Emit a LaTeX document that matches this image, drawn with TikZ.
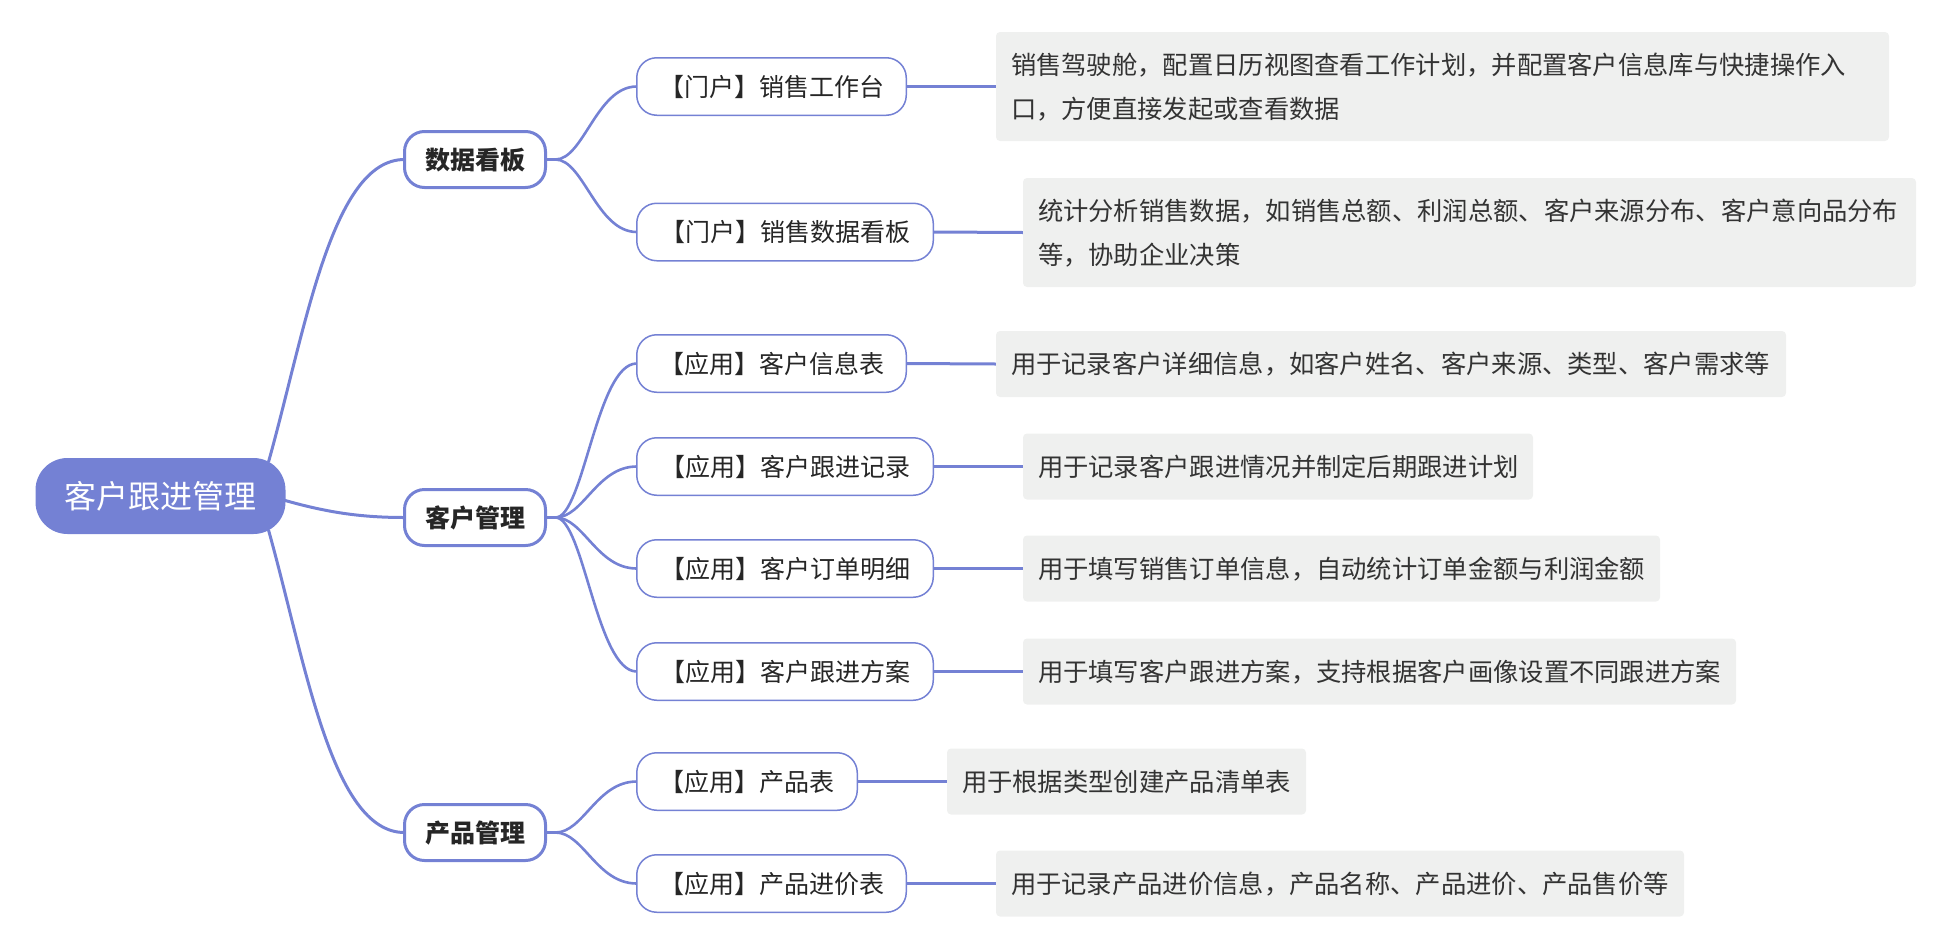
\documentclass[tikz,border=0pt]{standalone}
\usepackage{fontspec}
\setmainfont{Noto Sans CJK SC}
\usetikzlibrary{calc}
\pgfdeclarelayer{bg}
\pgfsetlayers{bg,main}
\definecolor{mainc}{RGB}{116,129,212}
\definecolor{descfill}{RGB}{239,240,239}
\definecolor{textc}{RGB}{38,38,38}
\definecolor{desctext}{RGB}{51,51,51}
\newcommand\mystrut{\rule[-0.12em]{0pt}{1em}}
\begin{document}
\begin{tikzpicture}[x=1pt,y=-1pt,
  rootnode/.style={fill=mainc, draw=none, rounded corners=32pt, minimum width=250pt, minimum height=76pt, inner sep=0pt, outer sep=0pt, text=white, font=\fontsize{32}{38}\selectfont},
  topicnode/.style={draw=mainc, line width=3pt, fill=white, rounded corners=20pt, minimum width=141pt, minimum height=56pt, inner sep=0pt, outer sep=0pt, font=\fontsize{25}{30}\selectfont\bfseries, text=textc},
  subnode/.style={draw=mainc, line width=1.5pt, fill=white, rounded corners=20pt, minimum height=57.5pt, inner sep=0pt, outer sep=0pt, anchor=west, font=\fontsize{25}{30}\selectfont, text=textc},
  descnode/.style={fill=descfill, draw=none, rounded corners=4pt, inner sep=0pt, outer sep=0pt, anchor=west, font=\fontsize{25.3}{44}\selectfont, text=desctext},
  link/.style={draw=mainc, line width=3pt},
  sublink/.style={draw=mainc, line width=2.6pt}
]
\path[use as bounding box] (0,0) rectangle (1956,948);

% root
\node[rootnode] (root) at (160.5,496) {\mystrut 客户跟进管理};

% level 1
\node[topicnode] (k1) at (475,159.5) {\mystrut 数据看板};
\node[topicnode] (k2) at (475,517.5) {\mystrut 客户管理};
\node[topicnode] (k3) at (475,832.5) {\mystrut 产品管理};

% level 2
\node[subnode, minimum width=269.5pt] (s1) at (636.75,86.5) {\mystrut 【门户】销售工作台};
\node[subnode, minimum width=296.5pt] (s2) at (636.75,232) {\mystrut 【门户】销售数据看板};
\node[subnode, minimum width=269.5pt] (s3) at (636.75,363.5) {\mystrut 【应用】客户信息表};
\node[subnode, minimum width=296.5pt] (s4) at (636.75,466.5) {\mystrut 【应用】客户跟进记录};
\node[subnode, minimum width=296.5pt] (s5) at (636.75,568.5) {\mystrut 【应用】客户订单明细};
\node[subnode, minimum width=296.5pt] (s6) at (636.75,671.5) {\mystrut 【应用】客户跟进方案};
\node[subnode, minimum width=220.5pt] (s7) at (636.75,781.5) {\mystrut 【应用】产品表};
\node[subnode, minimum width=269.5pt] (s8) at (636.75,883.5) {\mystrut 【应用】产品进价表};

% descriptions
\node[descnode, minimum width=893pt, minimum height=109pt] (d1) at (996,86.5)
  {\parbox{863pt}{\raggedright\mystrut 销售驾驶舱，配置日历视图查看工作计划，并配置客户信息库与快捷操作入\\\mystrut 口，方便直接发起或查看数据}};
\node[descnode, minimum width=893pt, minimum height=109pt] (d2) at (1023,232.5)
  {\parbox{863pt}{\raggedright\mystrut 统计分析销售数据，如销售总额、利润总额、客户来源分布、客户意向品分布\\\mystrut 等，协助企业决策}};
\node[descnode, minimum width=790pt, minimum height=66pt] (d3) at (996,364)
  {\parbox{760pt}{\raggedright\mystrut 用于记录客户详细信息，如客户姓名、客户来源、类型、客户需求等}};
\node[descnode, minimum width=510pt, minimum height=66pt] (d4) at (1023,466.5)
  {\parbox{480pt}{\raggedright\mystrut 用于记录客户跟进情况并制定后期跟进计划}};
\node[descnode, minimum width=637pt, minimum height=66pt] (d5) at (1023,568.5)
  {\parbox{607pt}{\raggedright\mystrut 用于填写销售订单信息，自动统计订单金额与利润金额}};
\node[descnode, minimum width=713pt, minimum height=66pt] (d6) at (1023,671.5)
  {\parbox{683pt}{\raggedright\mystrut 用于填写客户跟进方案，支持根据客户画像设置不同跟进方案}};
\node[descnode, minimum width=359pt, minimum height=66pt] (d7) at (947,781.5)
  {\parbox{329pt}{\raggedright\mystrut 用于根据类型创建产品清单表}};
\node[descnode, minimum width=688pt, minimum height=66pt] (d8) at (996,883.5)
  {\parbox{658pt}{\raggedright\mystrut 用于记录产品进价信息，产品名称、产品进价、产品售价等}};

\begin{pgfonlayer}{bg}
% root to level 1
\draw[link] ($(root.north east)+(-17,4)$) .. controls +(37,-132) and +(-73,0) .. (k1.west);
\draw[link] ($(root.east)+(-2,4)$) .. controls +(42,12) and +(-45,0) .. (k2.west);
\draw[link] ($(root.south east)+(-17,-4)$) .. controls +(37,132) and +(-73,0) .. (k3.west);
% level 1 to level 2
\foreach \p/\c in {k1/s1,k1/s2,k2/s3,k2/s4,k2/s5,k2/s6,k3/s7,k3/s8}{
  \draw[sublink] (\p.east) -- ++(10,0) .. controls +(28,0) and +(-40,0) .. (\c.west);
}
% level 2 to descriptions
\foreach \c/\d in {s1/d1,s2/d2,s3/d3,s4/d4,s5/d5,s6/d6,s7/d7,s8/d8}{
  \draw[link] (\c.east) -- (\d.west);
}
\end{pgfonlayer}
\end{tikzpicture}
\end{document}
